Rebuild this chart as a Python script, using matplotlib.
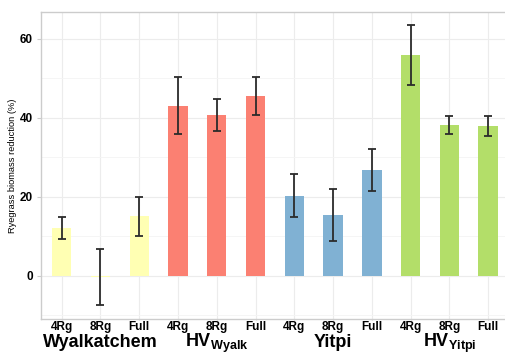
import numpy as np
import matplotlib
matplotlib.use('Agg')
import matplotlib.pyplot as plt
from matplotlib.ticker import MultipleLocator

plt.rcParams['font.family'] = ['Liberation Sans', 'DejaVu Sans']
plt.rcParams['mathtext.fontset'] = 'custom'
plt.rcParams['mathtext.bf'] = 'Liberation Sans:bold'
plt.rcParams['mathtext.rm'] = 'Liberation Sans'

# %% Data
treatments = ['4Rg', '8Rg', 'Full']
groups = ['Wyalkatchem', r'$\mathbf{HV}_{\mathbf{Wyalk}}$', 'Yitpi', r'$\mathbf{HV}_{\mathbf{Yitpi}}$']
group_colors = ['#FFFFB3', '#FB8072', '#80B1D3', '#B3DE69']

wyalk_mean = [12.1, -0.3, 15.1]
wyalk_err = [2.8, 7.1, 5.0]
hvwyalk_mean = [43.1, 40.8, 45.6]
hvwyalk_err = [7.2, 4.1, 4.8]
yitpi_mean = [20.3, 15.4, 26.8]
yitpi_err = [5.5, 6.6, 5.2]
hvyitpi_mean = [55.8, 38.2, 37.9]
hvyitpi_err = [7.6, 2.2, 2.5]

means = [wyalk_mean, hvwyalk_mean, yitpi_mean, hvyitpi_mean]
errs = [wyalk_err, hvwyalk_err, yitpi_err, hvyitpi_err]

# %% Plot
fig = plt.figure(figsize=(5.06, 3.6), dpi=100)
ax = fig.add_axes([41 / 506, 41 / 360, 465 / 506, 307 / 360])

x = np.arange(1, 13)
for gi in range(4):
    xs = x[gi * 3:gi * 3 + 3]
    ax.bar(xs, means[gi], width=0.5, color=group_colors[gi], zorder=2)
    ax.errorbar(xs, means[gi], yerr=errs[gi], fmt='none', ecolor='#2b2b2b',
                elinewidth=1.3, capsize=3, capthick=1.3, zorder=3)

ax.set_xlim(0.466, 12.46)
ax.set_ylim(-10.9, 66.8)
ax.yaxis.set_major_locator(MultipleLocator(20))
ax.yaxis.set_minor_locator(MultipleLocator(10))
ax.set_xticks(x)
ax.set_xticklabels(treatments * 4, fontsize=8.5, fontweight='bold', color='black')
ax.tick_params(axis='x', length=1, pad=0.5, color='#cccccc')
ax.tick_params(axis='y', which='major', length=3, pad=3, color='#cccccc', labelsize=8.5)
ax.tick_params(axis='y', which='minor', length=0)
for lab in ax.get_yticklabels():
    lab.set_fontweight('bold')

ax.grid(True, which='major', color='#ececec', linewidth=0.8, zorder=0)
ax.grid(True, which='minor', axis='y', color='#f4f4f4', linewidth=0.6, zorder=0)
ax.set_axisbelow(True)
for side in ['left', 'top', 'bottom']:
    ax.spines[side].set_color('#cccccc')
    ax.spines[side].set_linewidth(1.0)
ax.spines['right'].set_visible(False)

ax.set_ylabel('Ryegrass biomass reduction (%)', fontsize=6.7)
ax.yaxis.set_label_coords(-24 / 465, 0.5)

for gi, g in enumerate(groups):
    ax.text(x[gi * 3 + 1], -0.091, g, transform=ax.get_xaxis_transform(),
            ha='center', va='baseline', fontsize=13, fontweight='bold')

fig.savefig('out.png', dpi=100)
